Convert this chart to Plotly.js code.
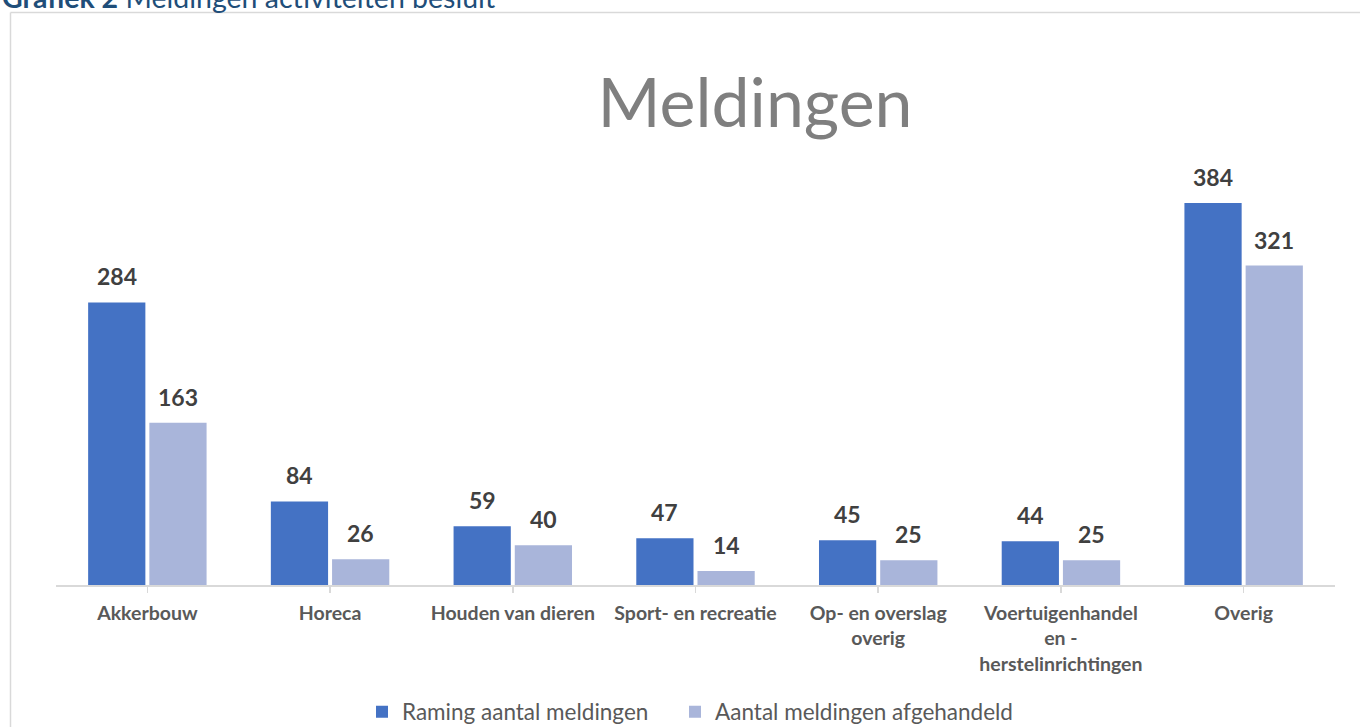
<!DOCTYPE html>
<html>
<head>
<meta charset="utf-8">
<script src="https://cdn.plot.ly/plotly-3.0.1.min.js"></script>
<style>
  html, body { margin: 0; padding: 0; background: #ffffff; }
  #chart { width: 1360px; height: 727px; }
</style>
</head>
<body>
<div id="chart"></div>
<script>
const categories = [
  "Akkerbouw",
  "Horeca",
  "Houden van dieren",
  "Sport- en recreatie",
  "Op- en overslag<br>overig",
  "Voertuigenhandel<br>en -<br>herstelinrichtingen",
  "Overig"
];
const seriesNames = ["Raming aantal meldingen", "Aantal meldingen afgehandeld"];
const ramingValues = [284, 84, 59, 47, 45, 44, 384];
const afgehandeldValues = [163, 26, 40, 14, 25, 25, 321];
const chartTitle = "Meldingen";
const headerBold = "Grafiek 2";
const headerRest = " Meldingen activiteiten besluit";

const W = 1360, H = 727;
const M = { l: 56, r: 25, t: 187, b: 142, autoexpand: false };
const plotW = W - M.l - M.r, plotH = H - M.t - M.b;
const px2x = p => (p - M.l) / plotW;
const px2y = p => (H - M.b - p) / plotH;

const colors = ["#4472c4", "#a9b5da"];
const bargap = 0.33;
const font = "Lato, 'Open Sans', sans-serif";
const legendIds = ["legend", "legend2"];

const idx = categories.map((_, i) => i);
const traces = [ramingValues, afgehandeldValues].map((vals, s) => ({
  type: "bar",
  name: seriesNames[s],
  x: idx,
  y: vals,
  legend: legendIds[s],
  marker: { color: colors[s], line: { width: 0 } },
  hoverinfo: "skip"
}));

const annotations = [];
[ramingValues, afgehandeldValues].forEach((vals, s) => {
  const off = (s - 0.5) * (1 - bargap) / 2;
  vals.forEach((v, i) => {
    annotations.push({
      x: i + off, y: v, xref: "x", yref: "y",
      text: String(v), showarrow: false,
      yanchor: "bottom", yshift: 10,
      font: { family: font, size: 23, color: "#404040", weight: "bold" }
    });
  });
});
annotations.push({
  xref: "paper", yref: "paper", x: px2x(0), y: px2y(16),
  xanchor: "left", yanchor: "bottom", showarrow: false,
  text: "<b>" + headerBold + "</b>" + headerRest,
  font: { family: font, size: 28.5, color: "#1f4e79" }
});

const shapes = [
  { type: "line", xref: "paper", yref: "paper", x0: px2x(10.5), x1: px2x(1362), y0: px2y(12.5), y1: px2y(12.5), line: { color: "#d9d9d9", width: 1.5 } },
  { type: "line", xref: "paper", yref: "paper", x0: px2x(10.5), x1: px2x(10.5), y0: px2y(12.5), y1: px2y(730), line: { color: "#d9d9d9", width: 1.5 } }
];

const legendBase = {
  orientation: "h", xanchor: "left", y: px2y(712), yanchor: "middle",
  font: { family: font, size: 22.5, color: "#595959" },
  itemwidth: 30, bgcolor: "rgba(0,0,0,0)",
  itemclick: false, itemdoubleclick: false
};

const layout = {
  width: W, height: H,
  margin: M,
  paper_bgcolor: "#ffffff",
  plot_bgcolor: "#ffffff",
  barmode: "group",
  bargap: bargap,
  bargroupgap: 0.065,
  title: {
    text: chartTitle,
    x: 755 / W, xanchor: "center",
    y: 1 - 103 / H, yanchor: "middle", yref: "container", xref: "container",
    font: { family: font, size: 68, color: "#7f7f7f" }
  },
  xaxis: {
    tickmode: "array", tickvals: idx, ticktext: categories,
    range: [-0.5, categories.length - 0.5],
    showline: true, linecolor: "#d9d9d9", linewidth: 1.5,
    ticks: "outside", tickson: "boundaries", ticklen: 6, tickcolor: "#d9d9d9", tickwidth: 1.5,
    ticklabelstandoff: 4,
    tickfont: { family: font, size: 19.5, color: "#595959", weight: "bold" },
    showgrid: false, zeroline: false, fixedrange: true
  },
  yaxis: {
    range: [0, 400], visible: false, showgrid: false, zeroline: false, fixedrange: true
  },
  showlegend: true,
  legend: Object.assign({}, legendBase, { x: px2x(362) }),
  legend2: Object.assign({}, legendBase, { x: px2x(675) }),
  annotations: annotations,
  shapes: shapes
};

Plotly.newPlot("chart", traces, layout, { displayModeBar: false, staticPlot: true });
</script>
</body>
</html>
